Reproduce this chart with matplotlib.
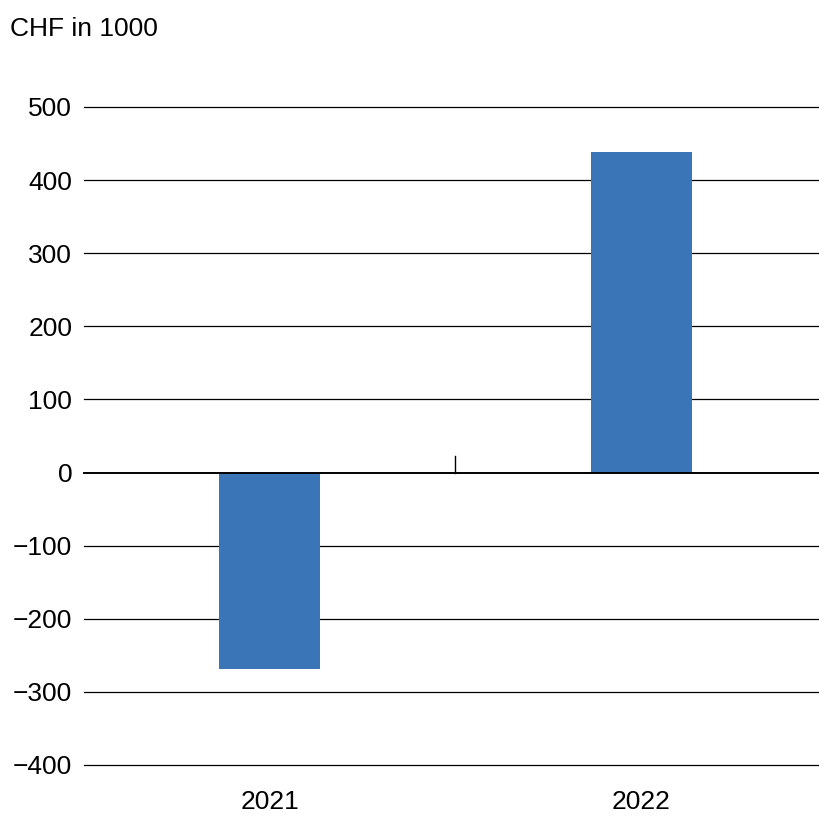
import matplotlib
matplotlib.use("Agg")
import matplotlib.pyplot as plt

categories = ["2021", "2022"]
values = [-269, 438]
yticks = [-400, -300, -200, -100, 0, 100, 200, 300, 400, 500]
ytick_labels = ["\u2212400", "\u2212300", "\u2212200", "\u2212100", "0", "100", "200", "300", "400", "500"]

plt.rcParams['font.family'] = ['Liberation Sans', 'DejaVu Sans']

W, H = 820, 817
fig = plt.figure(figsize=(W / 100, H / 100), dpi=100)
left, right, top, bottom = 84, 820, 107, 765
ax = fig.add_axes([left / W, 1 - bottom / H, (right - left) / W, (bottom - top) / H])

x = list(range(len(categories)))
ax.bar(x, values, width=0.272, color="#3a75b8", zorder=3)

for t in yticks:
    ax.axhline(t, color="black", lw=1.4 if t == 0 else 0.9, zorder=2 if t != 0 else 4, clip_on=False)
ax.plot([0.5, 0.5], [0, 22], color="black", lw=1, zorder=4)

ax.set_xlim(-0.5, 1.482)
ax.set_ylim(-400, 500)
ax.set_yticks(yticks)
ax.set_yticklabels(ytick_labels, fontsize=19)
ax.set_xticks(x)
ax.set_xticklabels(categories, fontsize=19)
ax.tick_params(axis='both', length=0)
ax.tick_params(axis='y', pad=8.5)
ax.tick_params(axis='x', pad=18)
for s in ax.spines.values():
    s.set_visible(False)

fig.text(10 / W, 1 - 29 / H, "CHF in 1000", fontsize=19, ha="left", va="center")

fig.savefig("out.png", dpi=100)
